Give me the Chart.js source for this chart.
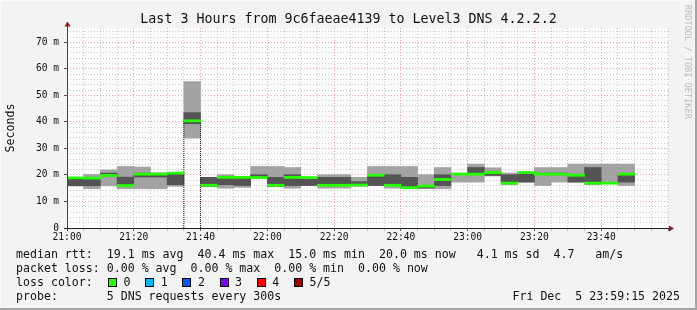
<!DOCTYPE html>
<html>
<head>
<meta charset="utf-8">
<script src="https://cdn.jsdelivr.net/npm/chart.js@4/dist/chart.umd.min.js"></script>
<style>
  html, body { margin:0; padding:0; background:#f3f3f3; }
  #wrap { position:relative; width:697px; height:310px; overflow:hidden; background:#f3f3f3; }
  #c { position:absolute; left:0; top:0; }
  .mono { font-family:"DejaVu Sans Mono", monospace; }
  .line { position:absolute; left:16px; height:14px; line-height:14px; font-size:11.6px; color:#111; white-space:pre; }
  .box { position:absolute; width:7px; height:7px; border:1px solid #000; }
  .lbl { position:absolute; height:14px; line-height:14px; font-size:11.6px; color:#111; white-space:pre; }
  #credit { position:absolute; left:692px; top:5px; transform:rotate(90deg); transform-origin:0 0; font-size:8.6px; line-height:9px; color:#bdbdbd; white-space:pre; }
  #bR { position:absolute; right:0; top:0; width:2px; height:310px; background:#a4a4a4; }
  #bB { position:absolute; left:0; bottom:0; width:697px; height:2px; background:#a4a4a4; }
  #bT { position:absolute; left:0; top:0; width:697px; height:1px; background:#fafafa; }
  #bL { position:absolute; left:0; top:0; width:1px; height:310px; background:#fafafa; }
</style>
</head>
<body>
<div id="wrap">
  <canvas id="c" width="697" height="310"></canvas>
  <div id="credit" class="mono">RRDTOOL / TOBI OETIKER</div>
  <div id="footer"></div>
  <div id="bT"></div><div id="bL"></div><div id="bR"></div><div id="bB"></div>
</div>
<script>
// ---- data (ms), one entry per 5-minute slot starting 21:00 ----
const slotStart = [0,5,10,15,20,25,30,35,40,45,50,55,60,65,70,75,80,85,90,95,100,105,110,115,120,125,130,135,140,145,150,155,160,165];
const pingMin   = [15.9,14.8,15.9,14.8,14.8,14.8,15.7,33.9,15.7,15.0,15.3,18.6,15.7,15.0,16.0,15.0,15.0,15.7,16.0,15.0,15.0,15.0,14.8,17.3,17.3,19.6,16.3,17.3,16.0,17.3,17.3,16.3,16.9,16.0];
const pingMax   = [19.0,20.2,21.9,23.2,23.0,20.7,20.9,55.2,19.1,20.1,19.1,23.2,23.2,22.8,19.1,20.1,20.1,19.1,23.2,23.2,23.2,20.1,22.8,20.7,24.1,22.7,20.7,20.9,22.8,22.8,24.1,24.1,24.1,24.1];
const innerLow  = [15.9,15.9,19.6,15.9,19.2,19.2,16.3,39.3,15.7,16.3,16.0,19.0,15.7,16.0,16.0,16.0,16.3,16.0,16.0,16.0,15.3,15.0,16.0,20.1,20.1,19.8,17.3,17.3,20.1,20.1,17.3,17.3,16.9,17.3];
const innerHigh = [19.0,18.5,20.7,19.2,20.7,20.7,20.9,43.5,19.1,19.1,19.1,20.1,19.1,20.1,19.1,19.1,19.1,17.5,20.1,20.1,19.1,15.9,20.1,20.5,22.8,21.0,20.1,20.7,20.7,20.7,20.1,22.8,17.2,20.1];
const medianRtt = [18.9,18.8,19.8,16.0,20.3,20.3,20.7,40.4,16.1,19.1,19.1,19.0,16.1,19.1,19.0,16.1,16.1,16.2,19.9,16.1,15.2,15.8,18.3,20.3,20.3,20.9,16.9,20.9,20.3,20.3,19.9,16.9,16.9,20.3];

const xTickLabels = ['21:00','21:20','21:40','22:00','22:20','22:40','23:00','23:20','23:40'];
const yTickLabels = ['0','10 m','20 m','30 m','40 m','50 m','60 m','70 m'];
const slotLen = 5;
const rangeMinutes = 180;
const yMax = 75.4;

const lossLabels = ['0','1','2','3','4','5/5'];
const lossColors = ['#26ff00','#00b8ff','#0059ff','#7e00ff','#ff0000','#a10000'];

const footerLines = [
  'median rtt:  19.1 ms avg  40.4 ms max  15.0 ms min  20.0 ms now   4.1 ms sd  4.7   am/s',
  'packet loss: 0.00 % avg  0.00 % max  0.00 % min  0.00 % now',
  'loss color:',
  'probe:       5 DNS requests every 300s'
];
const stampText = 'Fri Dec  5 23:59:15 2025';

// ---- footer (HTML text) ----
const footer = document.getElementById('footer');
const lineTops = [247, 261, 275, 289];
footerLines.forEach((t, i) => {
  const d = document.createElement('div');
  d.className = 'line mono';
  d.style.top = lineTops[i] + 'px';
  d.textContent = t;
  footer.appendChild(d);
});
const st = document.createElement('div');
st.className = 'lbl mono';
st.style.top = lineTops[3] + 'px';
st.style.right = '17px';
st.textContent = stampText;
footer.appendChild(st);
lossLabels.forEach((l, i) => {
  const bx = 108 + i * 37.2;
  const b = document.createElement('div');
  b.className = 'box';
  b.style.left = bx + 'px';
  b.style.top = '278px';
  b.style.background = lossColors[i];
  footer.appendChild(b);
  const s = document.createElement('div');
  s.className = 'lbl mono';
  s.style.left = (bx + 15.5) + 'px';
  s.style.top = lineTops[2] + 'px';
  s.textContent = l;
  footer.appendChild(s);
});

// ---- chart datasets ----
const centre = slotStart.map(s => s + slotLen / 2);
const lightData = centre.map((x, i) => ({x, y:[pingMin[i], pingMax[i]]}));
const darkData = centre.map((x, i) => ({x, y:[innerLow[i], innerHigh[i]]}));
const medHalf = 0.4;
const medData = centre.map((x, i) => ({x, y:[medianRtt[i] - medHalf, medianRtt[i] + medHalf]}));
const spike = medianRtt.indexOf(Math.max(...medianRtt));
const outlineData = [
  {x: slotStart[spike], y: 0},
  {x: slotStart[spike], y: medianRtt[spike]},
  {x: slotStart[spike] + slotLen, y: medianRtt[spike]},
  {x: slotStart[spike] + slotLen, y: 0}
];

const barCommon = { barPercentage:1, categoryPercentage:1, grouped:false, borderWidth:0, borderSkipped:false };
const monoFont = (size, lh) => ({ family:'"DejaVu Sans Mono", monospace', size, weight:'normal', lineHeight: lh || 1.2 });

const MAJOR_RED = 'rgba(235,90,90,0.55)';
const MINOR_GRAY = 'rgba(170,170,170,0.6)';

const frame = {
  id:'frame',
  beforeDraw(chart) {
    const {ctx, chartArea:a} = chart;
    ctx.save();
    ctx.fillStyle = '#fcfcfc';
    ctx.fillRect(a.left, a.top, a.right - a.left, a.bottom - a.top);
    ctx.restore();
  },
  afterDatasetsDraw(chart) {
    const {ctx, chartArea:a} = chart;
    ctx.save();
    ctx.strokeStyle = '#222';
    ctx.lineWidth = 1;
    ctx.beginPath();
    ctx.moveTo(a.left - 3, a.bottom + 0.5);
    ctx.lineTo(a.right + 2, a.bottom + 0.5);
    ctx.stroke();
    ctx.strokeStyle = '#7a2a2a';
    ctx.beginPath();
    ctx.moveTo(a.left + 0.5, a.bottom + 3);
    ctx.lineTo(a.left + 0.5, a.top - 2);
    ctx.stroke();
    ctx.fillStyle = '#8b1a1a';
    ctx.beginPath();
    ctx.moveTo(a.right + 6, a.bottom + 0.5);
    ctx.lineTo(a.right + 1, a.bottom - 2.5);
    ctx.lineTo(a.right + 1, a.bottom + 3.5);
    ctx.closePath();
    ctx.fill();
    ctx.beginPath();
    ctx.moveTo(a.left + 0.5, a.top - 6.5);
    ctx.lineTo(a.left - 2.5, a.top - 1.5);
    ctx.lineTo(a.left + 3.5, a.top - 1.5);
    ctx.closePath();
    ctx.fill();
    ctx.restore();
  }
};

new Chart(document.getElementById('c'), {
  type:'bar',
  data:{
    datasets:[
      { ...barCommon, label:'ping range', data:lightData, backgroundColor:'#a3a3a3', order:4 },
      { ...barCommon, label:'inner range', data:darkData, backgroundColor:'#545454', order:3 },
      { type:'line', label:'outline', data:outlineData, borderColor:'#1a1a1a', borderWidth:1, pointRadius:0, fill:false, tension:0, order:2, borderDash:[1,1] },
      { ...barCommon, label:'median rtt', data:medData, backgroundColor:'#26ff00', order:1 }
    ]
  },
  options:{
    responsive:false,
    animation:false,
    events:[],
    layout:{ padding:{ left:0, right:0, top:0, bottom:62 } },
    plugins:{
      legend:{ display:false },
      tooltip:{ enabled:false },
      title:{
        display:true,
        text:'Last 3 Hours from 9c6faeae4139 to Level3 DNS 4.2.2.2',
        color:'#111',
        font:monoFont(13.3, 1.0),
        padding:{ top:12.8, bottom:1.9 }
      }
    },
    scales:{
      x:{
        type:'linear',
        min:0, max:rangeMinutes,
        offset:false,
        ticks:{
          stepSize:slotLen, autoSkip:false, maxRotation:0, minRotation:0,
          padding:1, color:'#111', font:monoFont(9.6),
          callback:(v) => (v % 20 === 0 && v < rangeMinutes) ? xTickLabels[v / 20] : ''
        },
        grid:{
          offset:false,
          lineWidth:1,
          tickLength:3,
          color:(c) => { const v = c.tick && c.tick.value; if (v === 0) return 'rgba(0,0,0,0)'; return (v % 20 === 0 && v < rangeMinutes) ? MAJOR_RED : MINOR_GRAY; },
          tickColor:(c) => { const v = c.tick && c.tick.value; return (v % 20 === 0) ? '#666' : '#bbb'; }
        },
        border:{ display:false, dash:[1,2] },
        afterFit:(s) => { s.height = 20; }
      },
      y:{
        min:0, max:yMax,
        ticks:{
          stepSize:2, includeBounds:false, autoSkip:false,
          padding:5, color:'#111', font:monoFont(9.6),
          callback:(v) => (v % 10 === 0) ? yTickLabels[v / 10] : ''
        },
        grid:{
          lineWidth:1,
          tickLength:3,
          color:(c) => { const v = c.tick && c.tick.value; if (v === 0) return 'rgba(0,0,0,0)'; return (v % 10 === 0) ? MAJOR_RED : MINOR_GRAY; },
          tickColor:(c) => { const v = c.tick && c.tick.value; return (v % 10 === 0) ? '#555' : 'rgba(0,0,0,0)'; }
        },
        border:{ display:false, dash:[1,2] },
        title:{ display:true, text:'Seconds', color:'#111', font:monoFont(11.6), padding:{ top:4, bottom:0 } },
        afterFit:(s) => { s.width = 67; }
      },
      yRight:{
        position:'right',
        min:0, max:yMax,
        ticks:{ display:false },
        grid:{ display:false, drawOnChartArea:false },
        border:{ display:false },
        afterFit:(s) => { s.width = 29; }
      }
    }
  },
  plugins:[frame]
});
</script>
</body>
</html>
